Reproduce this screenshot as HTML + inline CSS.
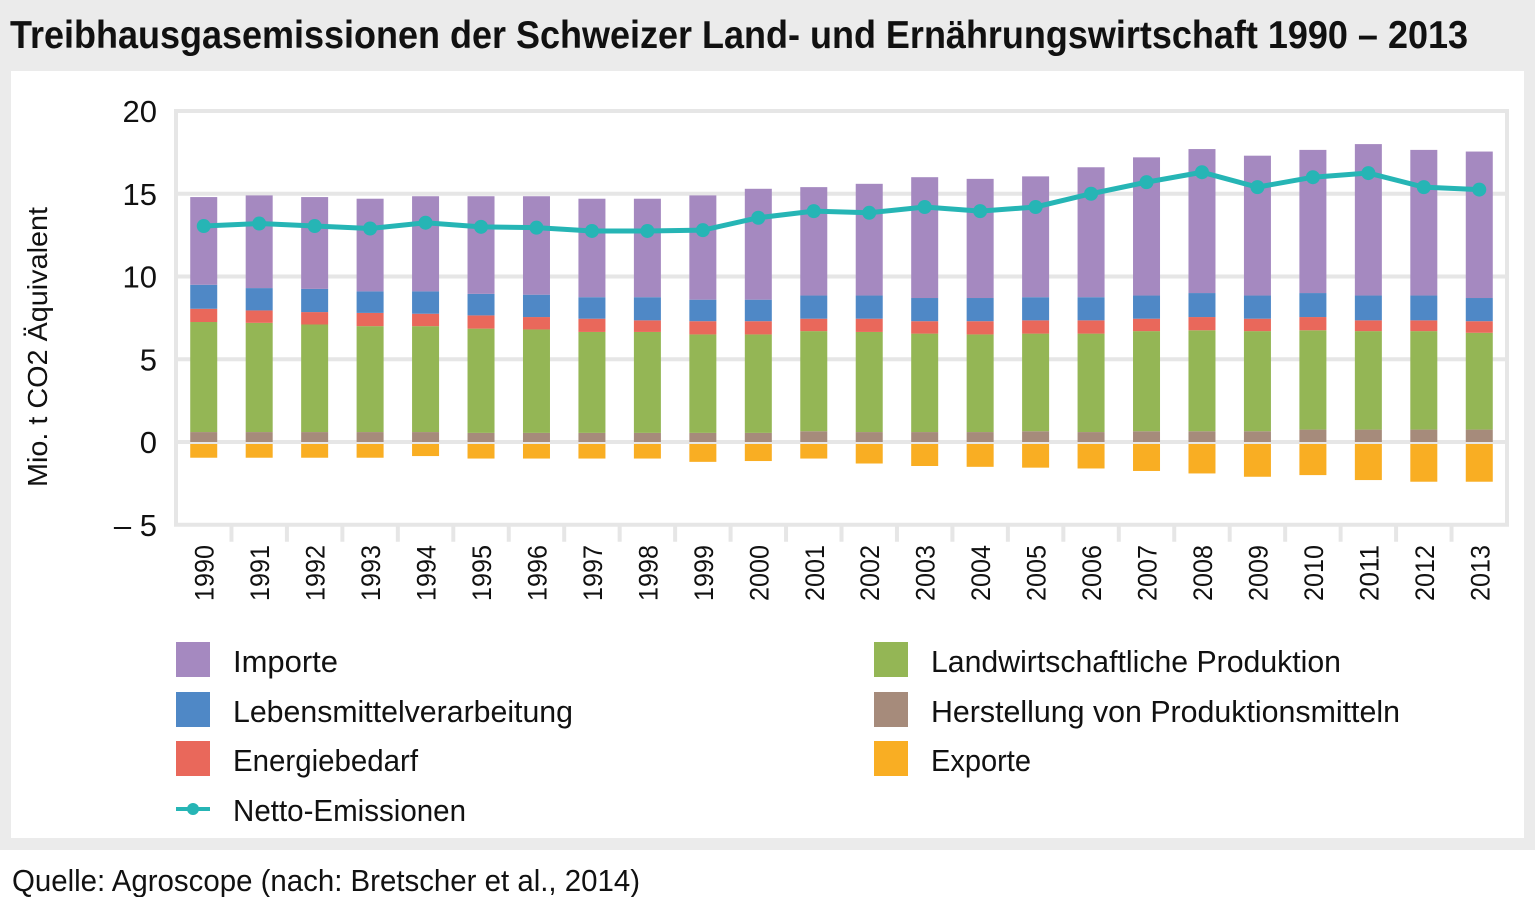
<!DOCTYPE html>
<html><head><meta charset="utf-8"><style>
html,body{margin:0;padding:0;background:#fff}
svg{display:block;font-family:"Liberation Sans",sans-serif}
</style></head><body>
<svg id="chart" width="1535" height="897" viewBox="0 0 1535 897">
<rect x="0" y="0" width="1535" height="850" fill="#ebebeb"/>
<rect x="11" y="71" width="1513" height="767" fill="#fff"/>
<text x="10" y="48" font-size="39" font-weight="bold" textLength="1458" lengthAdjust="spacingAndGlyphs" fill="#111">Treibhausgasemissionen der Schweizer Land- und Ernährungswirtschaft 1990 – 2013</text>
<g id="grid"></g>
<g id="bars"></g>
<g id="line"></g>
<g id="axes"></g>
<text transform="translate(47,347) rotate(-90)" text-anchor="middle" font-size="28" textLength="280" lengthAdjust="spacingAndGlyphs" fill="#111">Mio. t CO2 Äquivalent</text>
<g id="legend"></g>
<text x="12" y="891" font-size="31" textLength="628" lengthAdjust="spacingAndGlyphs" fill="#111">Quelle: Agroscope (nach: Bretscher et al., 2014)</text>
</svg>
<script>
const years=["1990","1991","1992","1993","1994","1995","1996","1997","1998","1999","2000","2001","2002","2003","2004","2005","2006","2007","2008","2009","2010","2011","2012","2013"];
const herstellung=[0.6,0.6,0.6,0.6,0.6,0.55,0.55,0.55,0.55,0.55,0.55,0.65,0.6,0.6,0.6,0.65,0.6,0.65,0.65,0.65,0.75,0.75,0.75,0.75];
const landwirtschaft=[6.65,6.6,6.5,6.4,6.4,6.3,6.25,6.1,6.1,5.95,5.95,6.05,6.05,5.95,5.9,5.9,5.95,6.05,6.1,6.05,6.0,5.95,5.95,5.85];
const energie=[0.8,0.75,0.75,0.8,0.75,0.8,0.75,0.8,0.7,0.8,0.8,0.75,0.8,0.75,0.8,0.8,0.8,0.75,0.8,0.75,0.8,0.65,0.65,0.7];
const lebensmittel=[1.45,1.35,1.4,1.3,1.35,1.3,1.35,1.3,1.4,1.3,1.3,1.4,1.4,1.4,1.4,1.4,1.4,1.4,1.45,1.4,1.45,1.5,1.5,1.4];
const importe=[5.3,5.6,5.55,5.6,5.75,5.9,5.95,5.95,5.95,6.3,6.7,6.55,6.75,7.3,7.2,7.3,7.85,8.35,8.7,8.45,8.65,9.15,8.8,8.85];
const exporte=[-0.95,-0.95,-0.95,-0.95,-0.85,-1.0,-1.0,-1.0,-1.0,-1.2,-1.15,-1.0,-1.3,-1.45,-1.5,-1.55,-1.6,-1.75,-1.9,-2.1,-2.0,-2.3,-2.4,-2.4];
const netto=[13.05,13.2,13.05,12.9,13.25,13.0,12.95,12.75,12.75,12.8,13.55,13.95,13.85,14.2,13.95,14.2,15.0,15.7,16.3,15.4,16.0,16.25,15.4,15.25];
const yTicks=[20,15,10,5,0,-5];
const yTickLabels=["20","15","10","5","0","– 5"];

const NS="http://www.w3.org/2000/svg";
const X0=176,X1=1507,Y0v=442,PX=16.55;
const step=(X1-X0)/years.length;
function y(v){return Y0v-v*PX;}
function xc(i){return X0+step*(i+0.5);}
function mk(tag,attrs,parent){const e=document.createElementNS(NS,tag);for(const k in attrs)e.setAttribute(k,attrs[k]);parent.appendChild(e);return e;}
const grid=document.getElementById('grid'),bars=document.getElementById('bars'),line=document.getElementById('line'),axes=document.getElementById('axes'),legend=document.getElementById('legend');
const GC="#e6e6e6";
let fr=mk('rect',{x:X0,y:y(20),width:X1-X0,height:y(-5)-y(20),fill:'none',stroke:GC,'stroke-width':4},grid);


yTicks.forEach((t,k)=>{
  if(t!==20&&t!==-5){
    const g=mk('line',{x1:X0,x2:X1,y1:y(t),y2:y(t),stroke:GC,'stroke-width':4},grid);
    
    
  }
  const tx=mk('text',{x:157,y:y(t)+11,'text-anchor':'end','font-size':31,fill:'#111'},axes);
  tx.textContent=yTickLabels[k];
  
  
});
for(let i=1;i<years.length;i++){
  const tk=mk('line',{x1:X0+step*i,x2:X0+step*i,y1:y(-5),y2:y(-5)+17,stroke:GC,'stroke-width':4},axes);
  
  
}
const series=[
 {name:'herstellung',vals:herstellung,color:'#a68b7b'},
 {name:'landwirtschaft',vals:landwirtschaft,color:'#94b655'},
 {name:'energie',vals:energie,color:'#e9685b'},
 {name:'lebensmittel',vals:lebensmittel,color:'#4f88c6'},
 {name:'importe',vals:importe,color:'#a589c0'}];
const BW=27;
years.forEach((yr,i)=>{
  let base=0;
  series.forEach(s=>{
    const v=s.vals[i];
    const r=mk('rect',{x:xc(i)-BW/2,y:y(base+v),width:BW,height:v*PX,fill:s.color},bars);
    
    
    base+=v;
  });
  const e=mk('rect',{x:xc(i)-BW/2,y:y(0)+2,width:BW,height:-exporte[i]*PX-2,fill:'#f9ae23'},bars);
  
  
  const lb=mk('text',{transform:`translate(${xc(i)+10},545) rotate(-90)`,'text-anchor':'end','font-size':27,fill:'#111',textLength:56,lengthAdjust:'spacingAndGlyphs'},axes);
  lb.textContent=yr;
  
  
});
const pts=netto.map((v,i)=>xc(i)+','+y(v)).join(' ');
const pl=mk('polyline',{points:pts,fill:'none',stroke:'#26b5b5','stroke-width':5},line);


netto.forEach((v,i)=>{
  const c=mk('circle',{cx:xc(i),cy:y(v),r:7,fill:'#26b5b5'},line);
  
  
});
const legItems=[
 {label:'Importe',color:'#a589c0',x:176,y:660,w:105},
 {label:'Lebensmittelverarbeitung',color:'#4f88c6',x:176,y:710,w:340},
 {label:'Energiebedarf',color:'#e9685b',x:176,y:759,w:185},
 {label:'Netto-Emissionen',color:'#26b5b5',x:176,y:809,w:233,line:true},
 {label:'Landwirtschaftliche Produktion',color:'#94b655',x:874,y:660,w:410},
 {label:'Herstellung von Produktionsmitteln',color:'#a68b7b',x:874,y:710,w:469},
 {label:'Exporte',color:'#f9ae23',x:874,y:759,w:100}];
legItems.forEach(it=>{
  const g=mk('g',{},legend);
  
  
  if(it.line){
    mk('line',{x1:it.x,x2:it.x+34,y1:it.y,y2:it.y,stroke:it.color,'stroke-width':4},g);
    mk('circle',{cx:it.x+17,cy:it.y,r:6,fill:it.color},g);
  } else {
    mk('rect',{x:it.x,y:it.y-18,width:34,height:35,fill:it.color},g);
  }
  const t=mk('text',{x:it.x+57,y:it.y+12,'font-size':31,fill:'#111',textLength:it.w,lengthAdjust:'spacingAndGlyphs'},g);
  t.textContent=it.label;
});
</script>
</body></html>
